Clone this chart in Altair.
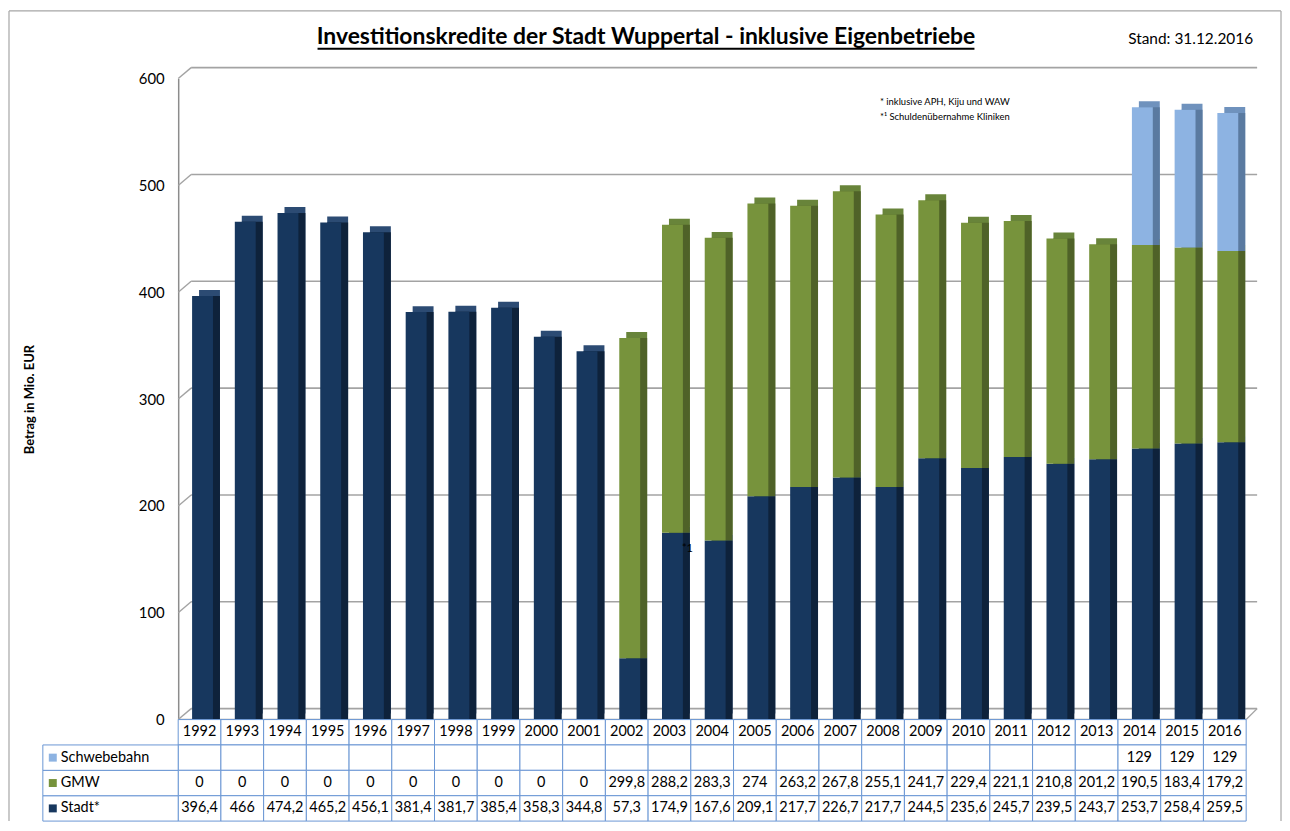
import altair as alt
import pandas as pd

# ---------------- data ----------------
years = ["1992", "1993", "1994", "1995", "1996", "1997", "1998", "1999", "2000",
         "2001", "2002", "2003", "2004", "2005", "2006", "2007", "2008", "2009",
         "2010", "2011", "2012", "2013", "2014", "2015", "2016"]
stadt = [396.4, 466, 474.2, 465.2, 456.1, 381.4, 381.7, 385.4, 358.3, 344.8,
         57.3, 174.9, 167.6, 209.1, 217.7, 226.7, 217.7, 244.5, 235.6, 245.7,
         239.5, 243.7, 253.7, 258.4, 259.5]
gmw = [0, 0, 0, 0, 0, 0, 0, 0, 0, 0,
       299.8, 288.2, 283.3, 274, 263.2, 267.8, 255.1, 241.7, 229.4, 221.1,
       210.8, 201.2, 190.5, 183.4, 179.2]
schwebebahn = [None, None, None, None, None, None, None, None, None, None,
               None, None, None, None, None, None, None, None, None, None,
               None, None, 129, 129, 129]

series_names = ["Stadt", "GMW", "Schwebebahn"]
series_labels = ["Stadt*", "GMW", "Schwebebahn"]
front_colors = ["#17375e", "#77933c", "#8db3e2"]
side_colors = ["#0e223b", "#4f6228", "#5a7aa0"]
top_colors = ["#2c4b73", "#68843a", "#6f92bd"]

y_ticks = [0, 100, 200, 300, 400, 500, 600]
table_rows = ["Jahr", "Schwebebahn", "GMW", "Stadt"]

title_text = "Investitionskredite der Stadt Wuppertal - inklusive Eigenbetriebe"
stand_text = "Stand: 31.12.2016"
footnotes = ["* inklusive APH, Kiju und WAW", "*\u00b9 Schuldenübernahme Kliniken"]
note_year, note_value, note_text = "2003", 160, "*1"
axis_title = "Betrag in Mio. EUR"

FONT = "Lato"
W, H = 1073, 644
GRID = "#a3a3a3"
TABLE_LINE = "#6a96d4"


def fmt(v):
    return f"{v:g}".replace(".", ",")


rows = []
for i, yr in enumerate(years):
    for k, vals in enumerate([stadt, gmw, schwebebahn]):
        v = vals[i]
        if v is None:
            continue
        rows.append(dict(year=yr, series=series_names[k], value=v, ord=k,
                         front=front_colors[k], side=side_colors[k], top=top_colors[k]))
bars = pd.DataFrame(rows)

cells = []
for i, yr in enumerate(years):
    cells.append(dict(year=yr, row="Jahr", label=yr))
    for name, vals in [("Schwebebahn", schwebebahn), ("GMW", gmw), ("Stadt", stadt)]:
        v = vals[i]
        cells.append(dict(year=yr, row=name, label="" if v is None else fmt(v)))
cells = pd.DataFrame(cells)

legend_df = pd.DataFrame(dict(row=series_names, label=series_labels, color=front_colors))
grid_df = pd.DataFrame(dict(value=y_ticks))
floor_df = pd.DataFrame(dict(value=[0]))

# ---------------- encodings ----------------
x_enc = alt.X("year:N", sort=years,
              scale=alt.Scale(domain=years, paddingInner=0, paddingOuter=0), axis=None)
y_axis = alt.Axis(values=y_ticks, title=axis_title, titleFont=FONT, titleFontSize=13,
                  titleFontWeight="bold", titleColor="#000000", titlePadding=102,
                  labelFont=FONT, labelFontSize=15, labelColor="#000000", labelPadding=14,
                  labelFlush=False, ticks=False, grid=False, domainColor="#8c8c8c",
                  domainWidth=1.5)
y_scale = alt.Scale(domain=[0, 600], nice=False, zero=True)


def y_enc(stack=None):
    if stack:
        return alt.Y("value:Q", stack="zero", scale=y_scale, axis=y_axis)
    return alt.Y("value:Q", scale=y_scale, axis=y_axis)


DX, DY = 13, -11   # wall depth
BX, BY = 7, -6     # bar depth
BSHIFT = 3

# back wall gridlines
grid_lines = alt.Chart(grid_df).mark_rule(color=GRID, strokeWidth=1.6, yOffset=DY).encode(
    x=alt.value(DX), x2=alt.value(W + DX - 2), y=y_enc())
grid_diag = alt.Chart(grid_df).mark_rule(color=GRID, strokeWidth=1.4, y2Offset=DY).encode(
    x=alt.value(0), x2=alt.value(DX), y=y_enc(), y2="value:Q")
floor_front = alt.Chart(floor_df).mark_rule(color=GRID, strokeWidth=1.6).encode(
    x=alt.value(0), x2=alt.value(W), y=y_enc())
floor_right = alt.Chart(floor_df).mark_rule(color=GRID, strokeWidth=1.4, y2Offset=DY).encode(
    x=alt.value(W), x2=alt.value(W + DX - 2), y=y_enc(), y2="value:Q")

bar_top = alt.Chart(bars).mark_bar(size=21, xOffset=BSHIFT + BX, yOffset=BY, y2Offset=BY).encode(
    x=x_enc, y=y_enc(True), color=alt.Color("top:N", scale=None),
    order=alt.Order("ord:Q"))
bar_side = alt.Chart(bars).mark_bar(size=21, xOffset=BSHIFT + BX).encode(
    x=x_enc, y=y_enc(True), color=alt.Color("side:N", scale=None),
    order=alt.Order("ord:Q"))
bar_front = alt.Chart(bars).mark_bar(size=21, xOffset=BSHIFT).encode(
    x=x_enc, y=y_enc(True), color=alt.Color("front:N", scale=None),
    order=alt.Order("ord:Q"))

note = alt.Chart(pd.DataFrame(dict(year=[note_year], value=[note_value], t=[note_text]))).mark_text(
    font=FONT, fontSize=11, xOffset=18, color="#000000").encode(x=x_enc, y=y_enc(), text="t:N")

# titles / annotations
title = alt.Chart(pd.DataFrame(dict(t=[title_text]))).mark_text(
    font=FONT, fontSize=23, fontWeight="bold", align="center", baseline="alphabetic",
    color="#000000").encode(text="t:N", x=alt.value(470), y=alt.value(-35))
underline = alt.Chart(pd.DataFrame(dict(t=[title_text]))).mark_rule(
    color="#000000", strokeWidth=2).encode(x=alt.value(140), x2=alt.value(800), y=alt.value(-30))
stand = alt.Chart(pd.DataFrame(dict(t=[stand_text]))).mark_text(
    font=FONT, fontSize=15.5, align="right", baseline="alphabetic", color="#000000").encode(
    text="t:N", x=alt.value(1080), y=alt.value(-35))
foot = alt.Chart(pd.DataFrame(dict(t=footnotes, i=[0, 1]))).mark_text(
    font=FONT, fontSize=9.5, align="left", baseline="middle", color="#000000").encode(
    text="t:N", x=alt.value(705),
    y=alt.Y("i:Q", scale=alt.Scale(domain=[0, 1], range=[24, 39]), axis=None))

# outer frame
frame_df = pd.DataFrame(dict(a=[0]))
frame_left = alt.Chart(frame_df).mark_rule(color="#a6a6a6", strokeWidth=1.2).encode(
    x=alt.value(-170), y=alt.value(-68), y2=alt.value(746))
frame_right = alt.Chart(frame_df).mark_rule(color="#a6a6a6", strokeWidth=1.2).encode(
    x=alt.value(1108), y=alt.value(-68), y2=alt.value(746))
frame_top = alt.Chart(frame_df).mark_rule(color="#a6a6a6", strokeWidth=1.2).encode(
    x=alt.value(-170), x2=alt.value(1108), y=alt.value(-68))

main = alt.layer(grid_lines, grid_diag, floor_front, floor_right,
                 bar_top, bar_side, bar_front, note)

# data table
ty = alt.Y("row:N", sort=table_rows,
           scale=alt.Scale(domain=table_rows, range=[644, 746], paddingInner=0, paddingOuter=0),
           axis=None)
cell_rect = alt.Chart(cells).mark_rect(fill="white", stroke=TABLE_LINE, strokeWidth=1).encode(
    x=x_enc, y=ty)
cell_text = alt.Chart(cells).mark_text(font=FONT, fontSize=14.5, color="#000000").encode(
    x=x_enc, y=ty, text="label:N")
leg_rect = alt.Chart(legend_df).mark_rect(fill="white", stroke=TABLE_LINE, strokeWidth=1).encode(
    x=alt.value(-136), x2=alt.value(0), y=ty)
leg_sq = alt.Chart(legend_df).mark_square(size=64, opacity=1).encode(
    x=alt.value(-126), y=ty, color=alt.Color("color:N", scale=None))
leg_text = alt.Chart(legend_df).mark_text(font=FONT, fontSize=14.5, align="left",
                                          color="#000000").encode(
    x=alt.value(-118), y=ty, text="label:N")
table = alt.layer(cell_rect, cell_text, leg_rect, leg_sq, leg_text)

deco = alt.layer(title, underline, stand, foot, frame_left, frame_right, frame_top)

chart = alt.layer(main, table, deco).resolve_scale(y="independent").properties(
    width=W, height=H, background="white",
    padding={"left": 0, "top": 0, "right": 0, "bottom": 0},
    autosize=alt.AutoSizeParams(type="pad")
).configure_view(stroke=None)

chart.save("out.html", embed_options={"renderer": "svg", "actions": False})
